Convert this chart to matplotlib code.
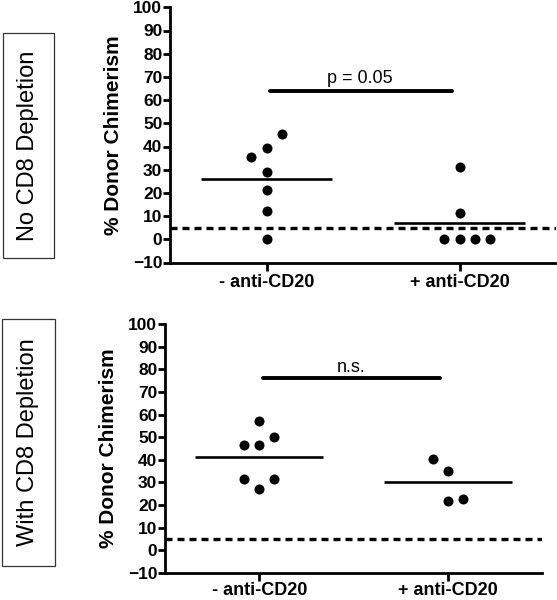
#importing libraries
import numpy as np
import matplotlib
matplotlib.use("Agg")
import matplotlib.pyplot as plt
from matplotlib.patches import Rectangle

plt.rcParams['font.family'] = ['Liberation Sans', 'DejaVu Sans']

#data
groups = ['- anti-CD20', '+ anti-CD20']
yticks = [-10, 0, 10, 20, 30, 40, 50, 60, 70, 80, 90, 100]
threshold = 5

# no CD8 depletion
top_minus = [45.4, 39.4, 35.3, 28.9, 21.1, 12.1, 0.0]
top_plus = [31.3, 11.2, 0.0, 0.0, 0.0, 0.0]
top_sig = 64
top_sig_text = 'p = 0.05'

# with CD8 depletion
bot_minus = [57.2, 50.0, 46.4, 46.4, 31.4, 31.4, 27.3]
bot_plus = [40.2, 35.1, 22.0, 22.7]
bot_sig = 76
bot_sig_text = 'n.s.'

#horizontal slot of each point (scatter spreading)
top_minus_slot = [1, 0, -1, 0, 0, 0, 0]
top_plus_slot = [0, 0, -1, 0, 1, 2]
bot_minus_slot = [0, 1, -1, 0, -1, 1, 0]
bot_plus_slot = [-1, 0, 0, 1]

fig = plt.figure(figsize=(5.57, 6), dpi=100)
W, H = 557.0, 600.0


def panel(rect, minus, plus, mslot, pslot, sig_y, sig_text, text_dy, xpad):
    ax = fig.add_axes(rect)
    step = 0.079
    for i, (vals, slots) in enumerate([(minus, mslot), (plus, pslot)]):
        xs = i + step * np.array(slots)
        ax.scatter(xs, vals, s=52, color='black', zorder=3, linewidths=0)
        m = np.mean(vals)
        ax.plot([i - 0.34, i + 0.34], [m, m], color='black', lw=1.9,
                solid_capstyle='butt', zorder=2)
    ax.axhline(threshold, color='black', lw=2.4, dashes=(2.1, 1.5),
               dash_capstyle='butt', zorder=1)
    ax.plot([0.02, 0.96], [sig_y, sig_y], color='black', lw=2.8,
            solid_capstyle='round')
    ax.text(0.485, sig_y + text_dy, sig_text, ha='center', va='baseline',
            fontsize=13)
    ax.set_xlim(-0.5, 1.5)
    ax.set_ylim(-10, 100)
    ax.set_yticks(yticks)
    ax.set_xticks([0, 1])
    ax.set_xticklabels(groups, fontsize=13, fontweight='bold')
    for lab in ax.get_yticklabels():
        lab.set_fontsize(12.5)
        lab.set_fontweight('bold')
    ax.spines['top'].set_visible(False)
    ax.spines['right'].set_visible(False)
    ax.spines['left'].set_linewidth(2)
    ax.spines['bottom'].set_linewidth(2)
    ax.tick_params(axis='y', length=5, width=2, pad=0.5)
    ax.tick_params(axis='x', length=6, width=2, pad=xpad)
    ax.set_ylabel('% Donor Chimerism', fontsize=15, fontweight='bold',
                  va='center')
    return ax


ax1 = panel([170 / W, 1 - 262.5 / H, 386 / W, 255.2 / H],
            top_minus, top_plus, top_minus_slot, top_plus_slot,
            top_sig, top_sig_text, 3.2, 2.5)
ax1.yaxis.set_label_coords(-0.146, 0.5)

ax2 = panel([165 / W, 1 - 573 / H, 377 / W, 249 / H],
            bot_minus, bot_plus, bot_minus_slot, bot_plus_slot,
            bot_sig, bot_sig_text, 3.0, 0.5)
ax2.yaxis.set_label_coords(-0.151, 0.5)

#side boxes
for (x0, y0, x1, y1), label in [((3, 33, 54, 258), 'No CD8 Depletion'),
                                ((2, 319, 55, 566), 'With CD8 Depletion')]:
    fig.patches.append(Rectangle((x0 / W, 1 - y1 / H), (x1 - x0) / W,
                                 (y1 - y0) / H, transform=fig.transFigure,
                                 fill=False, edgecolor='#333333', lw=0.9))
    fig.text((x0 + x1) / 2 / W, 1 - (y0 + y1) / 2 / H, label, rotation=90,
             ha='center', va='center', fontsize=17)

fig.savefig('out.png', dpi=100)
